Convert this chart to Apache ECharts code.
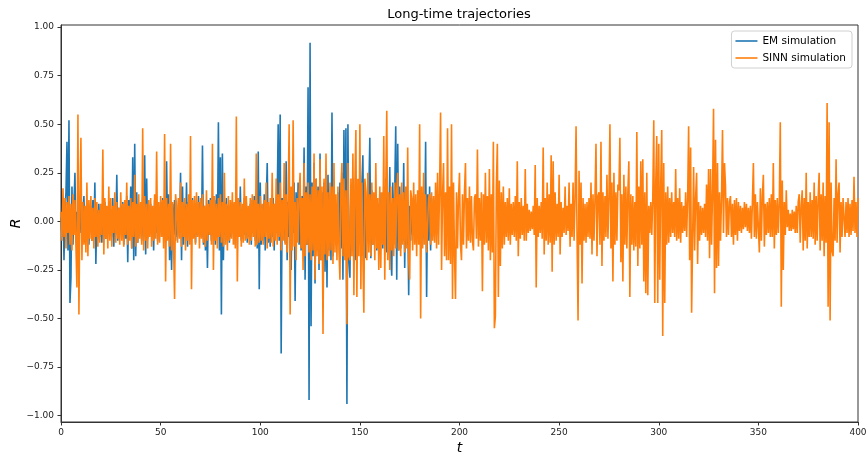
<!DOCTYPE html>
<html>
<head>
<meta charset="utf-8">
<script src="https://cdn.jsdelivr.net/npm/echarts@6/dist/echarts.min.js"></script>
<style>html,body{margin:0;padding:0;background:#fff}#c{width:867px;height:457px}</style>
</head>
<body>
<div id="c"></div>
<script>
// time step of both trajectories
const dt = 0.5;
const xTicks = [0, 50, 100, 150, 200, 250, 300, 350, 400];
const yTicks = [-1.00, -0.75, -0.50, -0.25, 0.00, 0.25, 0.50, 0.75, 1.00];

// EM simulation, t = 0 ... 187.5
const em0 = [
.02,-.08,.12,-.20,.06,.15,.41,-.15,.52,-.42,
-.29,.18,-.12,.08,.25,-.10,.05,-.14,.10,-.06,
.12,-.09,.04,.13,-.11,.07,-.05,.09,-.12,.03,
.08,-.10,.11,-.07,.20,-.22,.06,-.04,.09,-.08,
.05,-.11,.07,-.03,.10,-.09,.04,-.06,.08,-.05,
.06,-.08,.12,-.13,.09,-.05,.24,-.10,.07,-.04,
.08,-.06,.10,-.12,.05,-.09,.13,-.21,.11,-.07,
.18,-.14,.33,-.20,.40,-.18,.15,-.11,.09,-.06,
.07,-.10,.12,-.08,.34,-.17,.22,-.09,.06,-.05,
.09,-.07,.05,-.15,.11,-.06,.08,-.10,.07,-.04];
const em50 = [
.10,-.08,.12,-.06,.08,-.11,.31,-.09,.14,-.20,
.06,-.25,.09,-.07,.11,-.10,.05,-.08,.12,-.06,
.25,-.20,.18,-.12,.08,-.06,.20,-.13,.10,-.05,
.07,-.09,.12,-.08,.06,-.11,.09,-.07,.13,-.05,
.10,-.08,.39,-.12,.08,-.15,.06,-.24,.11,-.07,
.12,-.10,.09,-.06,.11,-.12,.14,-.08,.51,-.15,
.33,-.48,.35,-.20,.10,-.07,.12,-.09,.08,-.11,
.06,-.08,.10,-.05,.09,-.12,.07,-.06,.11,-.08,
.18,-.10,.06,-.09,.12,-.07,.10,-.11,.05,-.08,
.09,-.12,.11,-.06,.13,-.10,.07,-.14,.36,-.35];
const em100 = [
.20,-.12,.08,-.10,.14,-.15,.09,.30,-.11,.07,
-.13,.10,-.08,.12,-.15,.09,-.06,.11,.50,-.10,
.55,-.68,.12,-.09,.14,-.11,.31,-.20,.10,-.08,
.12,-.25,.09,-.06,.20,-.41,.15,-.10,.20,-.12,
.10,-.15,.13,-.09,.38,-.30,.18,-.12,.69,-.92,
.92,-.54,.20,-.18,.30,-.32,.22,-.15,.18,-.25,
.35,-.20,.15,-.12,.20,-.26,.18,-.34,.24,-.15,
.12,-.20,.56,-.18,.14,-.10,.08,-.12,.15,-.09,
.20,-.14,.25,-.30,.47,-.18,.48,-.94,.50,-.20,
-.29,.18,-.12,.22,-.15,.10,-.20,.14,-.11,.08];
const em150 = [
.12,-.15,.18,.34,-.14,.20,-.19,.12,-.10,.15,
.43,-.19,.16,-.12,.10,-.08,.14,-.15,.09,-.11,
.15,-.10,.12,-.14,.18,-.12,.22,-.16,.14,-.11,
.28,-.18,-.28,.20,-.12,.16,.49,-.30,.40,-.15,
.18,-.14,.12,-.10,.30,-.24,.15,-.12,.10,-.38,
.08,-.10,.12,-.07,.09,-.11,.08,-.06,.10,-.09,
.12,-.08,.15,-.12,.10,-.09,.41,-.39,.14,-.10,
.18,-.15,.12,-.08,.06,-.04];

// SINN simulation, t = 0 ... 400
const sinn0 = [
.05,-.10,.17,-.08,.12,-.14,.10,-.06,.13,-.12,
.09,-.15,.14,-.07,.11,-.13,-.34,.55,-.48,.12,
.43,-.20,.10,-.12,.08,-.16,.20,-.18,.11,-.09,
.13,-.10,.07,-.14,.12,-.08,.10,-.13,.06,-.11,
.09,-.07,.37,-.17,.12,-.09,.08,-.14,.18,-.10,
.12,-.13,.08,-.06,.15,-.11,.10,-.09,.07,-.12,
.15,-.10,.09,-.13,.11,-.07,.20,-.12,.08,-.10,
.12,-.14,.10,-.08,.24,-.13,.09,-.11,.14,-.09,
.10,-.12,.48,-.15,.13,-.10,.09,-.14,.11,-.08,
.12,-.13,.08,-.10,.14,-.09,.36,-.12,.10,-.11];
const sinn50 = [
.13,-.08,.11,-.14,.45,-.31,.12,-.10,.09,-.13,
.40,-.15,.10,-.12,-.40,.14,.08,-.11,.12,-.09,
.20,-.13,.10,-.08,.12,-.15,.09,-.10,.14,-.12,
.44,-.35,.11,-.09,.13,-.12,.15,-.08,.10,-.14,
.12,-.09,.14,-.11,.08,-.13,.16,-.10,.09,-.07,
.11,-.12,.40,-.25,.13,-.10,.09,-.14,.12,-.08,
.14,-.11,.10,-.13,.25,-.12,.09,-.15,.13,-.10,
.11,-.09,.15,-.12,.10,-.14,.54,-.31,.12,-.08,
.10,-.13,.09,-.11,.22,-.10,.13,-.09,.08,-.12,
.12,-.10,.14,-.08,.11,-.13,.35,-.12,.09,-.11];
const sinn100 = [
.13,-.10,.09,-.12,.11,-.08,.20,-.14,.10,-.09,
.12,-.11,.25,-.13,.09,-.10,.22,-.12,.14,-.08,
.20,-.15,.11,-.10,.30,-.12,.14,-.16,.12,.50,
-.48,.18,-.15,.52,-.13,.10,-.20,.12,-.11,.14,
.25,-.14,.12,-.25,.30,-.18,.15,-.12,.20,-.16,
.14,-.20,.18,-.15,.35,-.30,.22,-.18,.16,-.22,
.32,-.20,.18,-.58,.22,-.17,.35,-.20,.15,-.18,
.20,-.15,.18,-.22,.30,-.16,.14,-.20,.18,-.15,
-.30,.18,.30,-.18,.22,-.20,.16,-.53,.30,-.18,
-.20,.22,-.18,.35,-.38,.20,.47,-.39,.22,-.18];
const sinn150 = [
.50,-.35,.20,-.18,-.47,.22,.15,-.20,.25,-.16,
.14,-.18,.20,-.12,.15,-.20,.30,-.14,.12,-.25,
.18,-.24,.15,-.12,.44,-.30,.18,.57,-.20,.15,
-.25,.18,-.15,.12,-.18,.20,-.14,.16,.25,-.15,
.14,-.18,.20,-.12,.15,-.16,.18,-.14,.38,-.20,
-.30,.16,.12,-.15,.20,-.12,.14,-.18,.16,-.12,
.50,-.50,.18,-.14,.25,-.12,.14,-.16,-.15,.12,
.14,-.12,.15,-.10,.13,-.11,.20,-.14,.25,-.12,
.16,.56,-.25,.14,.30,-.18,.15,-.20,.48,-.20,
.18,-.22,.50,-.40,.20,-.18,-.40,.15,-.14,.12];
const sinn200 = [
.25,-.12,-.20,.14,-.12,.15,.30,-.14,.12,-.10,
.18,-.11,.13,-.10,-.15,.12,.14,-.09,.37,-.13,
.12,-.10,.15,-.36,.14,-.12,.25,-.11,.13,-.15,
.27,-.20,.14,-.16,.41,-.55,-.49,.18,.40,-.39,
.21,-.23,.15,-.14,.18,-.12,.10,-.08,.12,-.10,
.17,-.12,.09,-.07,.10,-.08,.13,-.10,.31,-.18,
.10,-.09,.12,-.07,.08,-.10,.27,-.10,.09,-.06,
.06,-.05,.05,-.04,.08,-.07,.29,-.34,.12,-.08,
.08,-.06,.10,-.09,.38,-.17,.12,-.10,.20,-.12,
.14,-.11,.34,-.26,.31,-.12,.15,-.10,.09,-.08];
const sinn250 = [
.24,-.17,.10,-.08,.07,-.06,.18,-.07,.08,-.05,
.20,-.13,.09,-.08,.20,-.10,.12,.49,-.08,-.51,
.26,-.12,.20,-.32,.12,-.10,.09,-.11,.10,-.08,
.12,-.09,.20,-.17,.14,-.10,.12,.40,-.18,.13,
.15,-.12,.41,-.23,.15,-.10,.13,-.08,.24,-.09,
.12,.50,-.14,.20,-.31,.25,-.12,.15,-.10,.19,
.16,.43,-.21,.14,-.31,.24,-.12,.18,-.14,.15,
.31,-.39,.14,-.12,.13,-.15,.10,-.13,.46,-.23,
.18,-.14,.31,-.12,.32,-.31,.15,-.37,.25,-.38,
.08,-.06,.10,-.07,.12,.52,-.42,.20,.44,-.42];
const sinn300 = [
.40,-.30,.20,.47,-.59,.30,-.42,.15,-.12,.18,
-.11,.12,-.08,.15,-.06,.10,-.08,.27,-.10,.12,
-.09,.17,-.11,.10,-.06,.08,-.05,.15,-.08,.12,
.49,-.20,.38,-.47,-.47,.28,-.15,.12,.25,-.22,
.10,-.10,.08,-.07,.07,-.06,.09,-.08,.19,-.10,
.27,-.19,.27,-.12,.15,.58,-.37,.42,-.24,.30,
-.23,.15,-.10,.12,.47,-.06,.30,.18,-.08,.12,
-.07,.10,.13,-.08,.09,-.12,.11,-.07,.12,-.10,
.10,-.05,.08,-.06,.07,-.04,.10,-.03,.09,-.05,
.07,-.06,.08,-.09,.10,.30,-.08,.14,-.09,.10];
const sinn350 = [
.11,-.16,.17,-.10,.13,.24,-.13,.09,-.07,.10,
-.06,.12,-.08,.14,-.08,.30,-.14,.11,-.07,.12,
-.06,.10,.51,-.44,.21,-.25,.10,-.07,.16,-.03,
.06,-.05,.04,-.05,.06,-.04,.05,-.06,.08,-.06,
.10,.14,-.11,.08,.16,-.15,.12,-.10,.25,-.14,
.10,-.08,.15,-.08,.11,-.09,.20,-.12,.13,-.10,
.12,.25,-.15,.14,-.10,.20,-.18,.13,-.11,.61,
-.44,.51,-.51,.20,-.15,-.18,.12,-.10,.32,-.11,
.14,.20,-.16,.10,-.08,.12,.12,-.08,.10,-.06,
.12,-.08,.09,-.07,.11,-.05,.23,-.06,.10,-.08,
.12];

const emValues = [].concat(em0, em50, em100, em150);
const sinnValues = [].concat(sinn0, sinn50, sinn100, sinn150, sinn200, sinn250, sinn300, sinn350);
const toPairs = vals => vals.map((v, i) => [i * dt, v]);

const FONT = "'DejaVu Sans', sans-serif";
const fmt = v => (v < 0 ? '\u2212' : '') + Math.abs(v).toFixed(2);

const chart = echarts.init(document.getElementById('c'), null, {renderer: 'canvas'});
chart.setOption({
  animation: false,
  backgroundColor: '#fff',
  graphic: [{
    type: 'text', x: 459, y: 8,
    style: {text: 'Long-time trajectories', textAlign: 'center', textVerticalAlign: 'top',
            font: "13px 'DejaVu Sans', sans-serif", fill: '#000'}
  }],
  grid: {left: 61, right: 9, top: 25, bottom: 35, outerBoundsMode: 'none', containLabel: false,
         show: true, borderColor: '#333', borderWidth: 1, backgroundColor: 'transparent'},
  legend: {
    orient: 'vertical', right: 15, top: 31,
    icon: 'rect', itemWidth: 22, itemHeight: 1.6, itemGap: 5,
    padding: [4, 6, 4, 4],
    borderColor: '#d0d0d0', borderWidth: 1, borderRadius: 3,
    backgroundColor: 'rgba(255,255,255,0.85)',
    textStyle: {fontFamily: FONT, fontSize: 10.5, color: '#000', lineHeight: 12},
    data: ['EM simulation', 'SINN simulation']
  },
  xAxis: {
    type: 'value', min: 0, max: 400, interval: 50,
    name: 't', nameLocation: 'middle', nameGap: 19, nameMoveOverlap: false,
    nameTextStyle: {fontFamily: FONT, fontStyle: 'italic', fontSize: 14, color: '#000'},
    axisLine: {onZero: false, lineStyle: {color: '#333', width: 1}},
    axisTick: {show: true, length: 3.5, lineStyle: {color: '#333'}},
    axisLabel: {fontFamily: FONT, fontSize: 9, color: '#222', margin: 6, customValues: xTicks},
    splitLine: {show: false}
  },
  yAxis: {
    type: 'value', min: -1.033, max: 1.011,
    name: 'R', nameLocation: 'middle', nameGap: 38, nameRotate: 90, nameMoveOverlap: false,
    nameTextStyle: {fontFamily: FONT, fontStyle: 'italic', fontSize: 14, color: '#000'},
    axisLine: {show: true, onZero: false, lineStyle: {color: '#333', width: 1}},
    axisTick: {show: true, length: 3.5, lineStyle: {color: '#333'}, customValues: yTicks},
    axisLabel: {fontFamily: FONT, fontSize: 9, color: '#222', margin: 7, customValues: yTicks, formatter: fmt},
    splitLine: {show: false}
  },
  series: [
    {name: 'EM simulation', type: 'line', data: toPairs(emValues), showSymbol: false, symbol: 'none',
     sampling: null, lineStyle: {color: '#1f77b4', width: 1.6}, itemStyle: {color: '#1f77b4'}, z: 2},
    {name: 'SINN simulation', type: 'line', data: toPairs(sinnValues), showSymbol: false, symbol: 'none',
     sampling: null, lineStyle: {color: '#ff7f0e', width: 1.6}, itemStyle: {color: '#ff7f0e'}, z: 3}
  ]
});
</script>
</body>
</html>
